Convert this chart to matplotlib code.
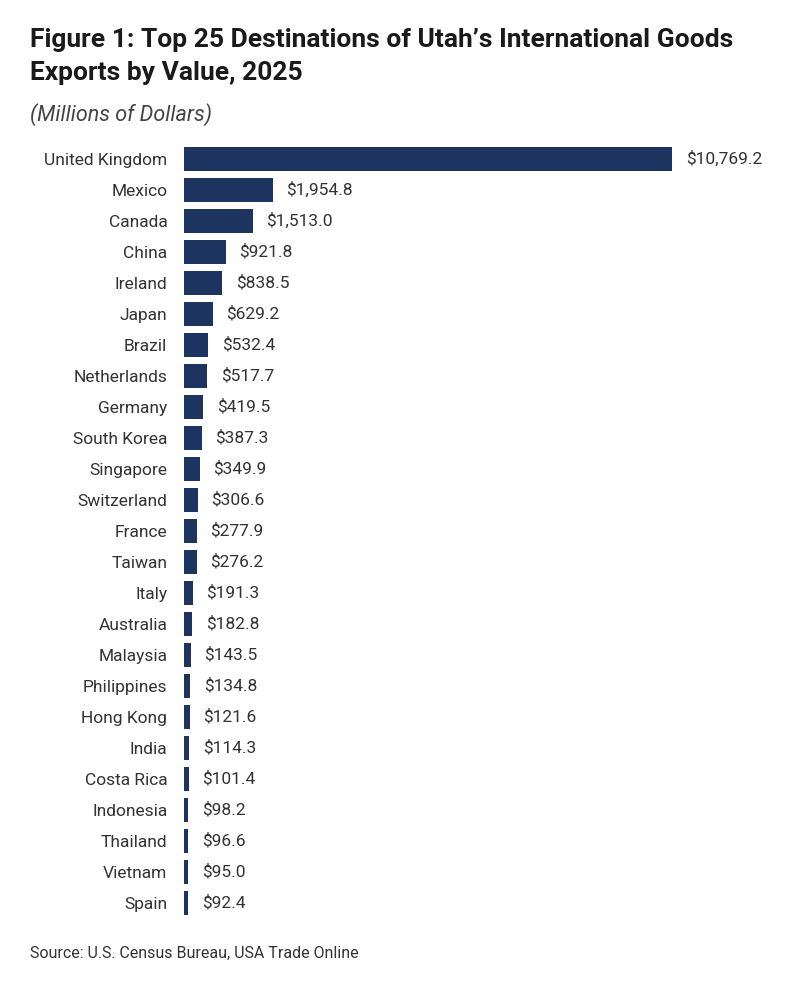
import matplotlib.pyplot as plt

countries = ["United Kingdom", "Mexico", "Canada", "China", "Ireland", "Japan",
             "Brazil", "Netherlands", "Germany", "South Korea", "Singapore",
             "Switzerland", "France", "Taiwan", "Italy", "Australia", "Malaysia",
             "Philippines", "Hong Kong", "India", "Costa Rica", "Indonesia",
             "Thailand", "Vietnam", "Spain"]
values = [10769.2, 1954.8, 1513.0, 921.8, 838.5, 629.2, 532.4, 517.7, 419.5,
          387.3, 349.9, 306.6, 277.9, 276.2, 191.3, 182.8, 143.5, 134.8, 121.6,
          114.3, 101.4, 98.2, 96.6, 95.0, 92.4]

plt.rcParams['font.family'] = ['Roboto', 'DejaVu Sans']

fig = plt.figure(figsize=(8, 9.86), dpi=100)
ax = fig.add_axes([0.23, 0.0685, 0.758, 0.786])

bar_color = '#1d3461'
y = list(range(len(countries)))
ax.barh(y, values, height=0.8, color=bar_color)
ax.set_ylim(len(countries) - 0.5, -0.5)
ax.set_xlim(0, 13373)

for yi, v in zip(y, values):
    ax.text(v + 300, yi, f"${v:,.1f}", va='center', ha='left',
            fontsize=12.5, color='#333333')

ax.set_yticks(y)
ax.set_yticklabels(countries, fontsize=12.5, color='#333333')
ax.tick_params(axis='y', length=0, pad=12)
ax.set_xticks([])
for s in ax.spines.values():
    s.set_visible(False)

fig.text(0.0375, 1 - 40 / 986, "Figure 1: Top 25 Destinations of Utah\u2019s International Goods",
         fontsize=19, fontweight='bold', color='#1a1a1a', va='center', ha='left')
fig.text(0.0375, 1 - 73 / 986, "Exports by Value, 2025",
         fontsize=19, fontweight='bold', color='#1a1a1a', va='center', ha='left')
fig.text(0.0375, 1 - 115 / 986, "(Millions of Dollars)",
         fontsize=15.5, fontstyle='italic', color='#444444', va='center', ha='left')
fig.text(0.0375, 1 - 953 / 986, "Source: U.S. Census Bureau, USA Trade Online",
         fontsize=11.5, color='#333333', va='center', ha='left')

fig.savefig("out.png", dpi=100, facecolor='white')
